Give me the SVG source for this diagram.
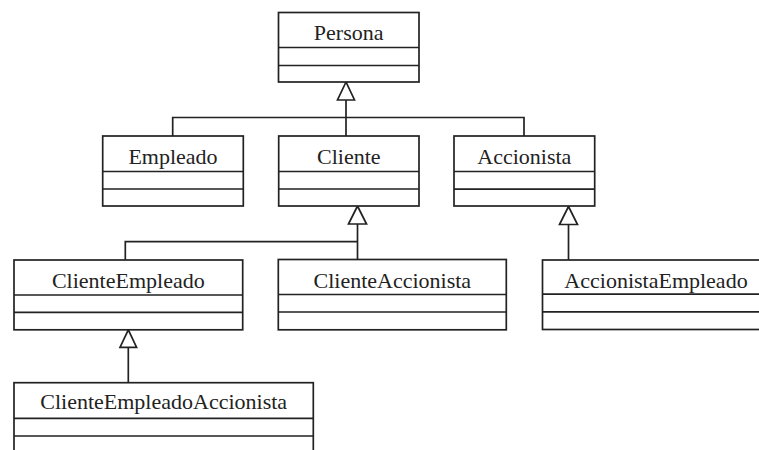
<svg xmlns="http://www.w3.org/2000/svg" width="759" height="450" viewBox="0 0 759 450">
  <style>
    .box { fill: #ffffff; stroke: #222222; stroke-width: 1.7; }
    .sep { stroke: #222222; stroke-width: 1.7; fill: none; }
    .name { font-family: "Liberation Serif", "Times New Roman", serif; font-size: 22px; fill: #222222; text-anchor: middle; }
    .edge { stroke: #222222; stroke-width: 1.7; fill: none; }
    .head { fill: #ffffff; stroke: #222222; stroke-width: 1.7; stroke-linejoin: miter; }
  </style>
  <rect width="759" height="450" fill="#ffffff"/>

  <!-- inheritance connectors -->
  <g id="connectors">
    <!-- Empleado, Cliente, Accionista -> Persona -->
    <path class="edge" d="M346 100 V136 M172.7 136 V117.5 H524 V136"/>
    <polygon class="head" points="346,82 337.5,100 354.5,100"/>
    <!-- ClienteEmpleado, ClienteAccionista -> Cliente -->
    <path class="edge" d="M357.5 224 V259.5 M125.3 260 V241.7 H357.5"/>
    <polygon class="head" points="357.5,206 348.5,224 366.5,224"/>
    <!-- AccionistaEmpleado -> Accionista -->
    <path class="edge" d="M568.5 224.5 V260"/>
    <polygon class="head" points="568.5,206.5 559.5,224.5 577.5,224.5"/>
    <!-- ClienteEmpleadoAccionista -> ClienteEmpleado -->
    <path class="edge" d="M128.3 347.3 V382.7"/>
    <polygon class="head" points="128.3,329.8 120,347.3 136.6,347.3"/>
  </g>

  <g id="persona">
    <rect class="box" x="278.5" y="12.5" width="140.5" height="69.5"/>
    <path class="sep" d="M278.5 47.5 H419 M278.5 65.5 H419"/>
    <text class="name" x="348.7" y="40">Persona</text>
  </g>

  <g id="empleado">
    <rect class="box" x="102.7" y="136" width="140.6" height="70"/>
    <path class="sep" d="M102.7 171.5 H243.3 M102.7 189 H243.3"/>
    <text class="name" x="173" y="163.5">Empleado</text>
  </g>

  <g id="cliente">
    <rect class="box" x="278.7" y="136" width="140.3" height="70"/>
    <path class="sep" d="M278.7 171.5 H419 M278.7 189 H419"/>
    <text class="name" x="348.8" y="163.5">Cliente</text>
  </g>

  <g id="accionista">
    <rect class="box" x="454" y="136" width="140.7" height="70"/>
    <path class="sep" d="M454 171.5 H594.7 M454 189.2 H594.7"/>
    <text class="name" x="524.3" y="163.5">Accionista</text>
  </g>

  <g id="cliente-empleado">
    <rect class="box" x="14" y="260" width="228.7" height="69.8"/>
    <path class="sep" d="M14 295 H242.7 M14 312.3 H242.7"/>
    <text class="name" x="128.3" y="287.7">ClienteEmpleado</text>
  </g>

  <g id="cliente-accionista">
    <rect class="box" x="278.3" y="259.5" width="228" height="70.3"/>
    <path class="sep" d="M278.3 294.5 H506.3 M278.3 312 H506.3"/>
    <text class="name" x="392.3" y="287.7">ClienteAccionista</text>
  </g>

  <g id="accionista-empleado">
    <rect class="box" x="542.5" y="260" width="227.5" height="69.5"/>
    <path class="sep" d="M542.5 294.2 H770 M542.5 311.8 H770"/>
    <text class="name" x="656" y="287.7">AccionistaEmpleado</text>
  </g>

  <g id="cliente-empleado-accionista">
    <rect class="box" x="14" y="382.7" width="299.3" height="90"/>
    <path class="sep" d="M14 418.3 H313.3 M14 436 H313.3"/>
    <text class="name" x="163.7" y="409">ClienteEmpleadoAccionista</text>
  </g>
</svg>
